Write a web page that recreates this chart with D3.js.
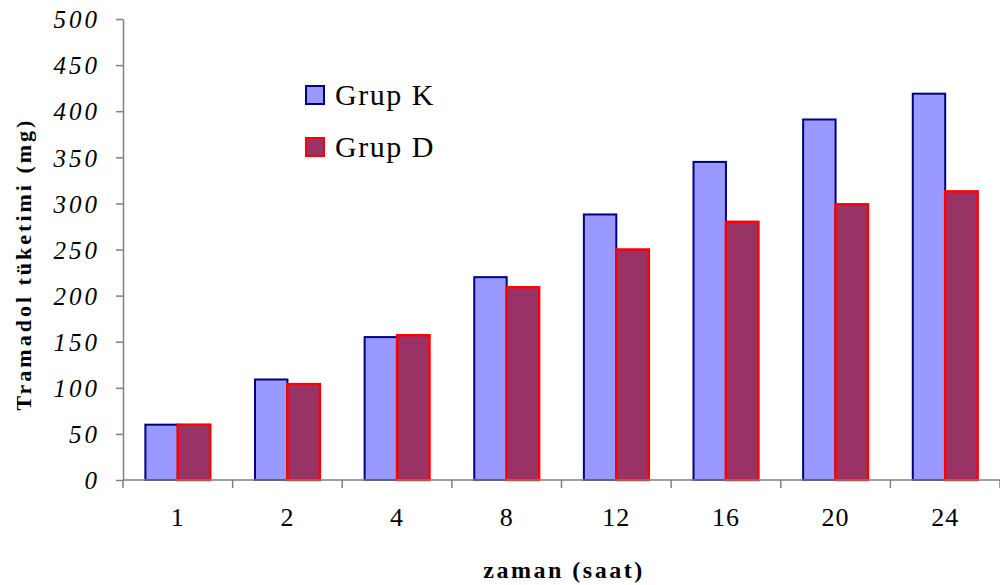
<!DOCTYPE html>
<html>
<head>
<meta charset="utf-8">
<script src="https://cdn.jsdelivr.net/npm/d3@7"></script>
<style>
  html, body { margin: 0; padding: 0; background: #fff; }
  svg { display: block; }
  text { font-family: "Liberation Serif", "Times New Roman", serif; fill: #000; }
</style>
</head>
<body>
<svg id="chart" width="1000" height="585"></svg>
<script>
// Tramadol consumption (mg) over time, two groups
const hours = ["1", "2", "4", "8", "12", "16", "20", "24"];
const seriesNames = ["Grup K", "Grup D"];
const grupK = [60, 109, 155, 220, 288, 345, 391, 419];
const grupD = [60, 104, 157, 209, 250, 280, 299, 313];
const yTicks = [0, 50, 100, 150, 200, 250, 300, 350, 400, 450, 500];

const fills = ["#9999FF", "#993366"];
const strokes = ["#000080", "#FF0000"];

const svg = d3.select("#chart");
const margin = { left: 123, right: 0, top: 19, bottom: 105 };
const W = 1000, H = 585;

const x = d3.scaleBand().domain(hours).range([margin.left, W - margin.right]).paddingInner(0).paddingOuter(0);
const xi = d3.scaleBand().domain(seriesNames).range([0, x.bandwidth()]).paddingInner(0).paddingOuter(0.69);
const y = d3.scaleLinear().domain([0, 500]).range([H - margin.bottom, margin.top]);

const rows = hours.map((h, i) => ({ h, vals: [grupK[i], grupD[i]] }));

// Bars
const groups = svg.append("g").selectAll("g").data(rows).join("g")
  .attr("transform", d => `translate(${x(d.h)},0)`);
groups.selectAll("rect").data(d => d.vals.map((v, k) => ({ v, k })))
  .join("rect")
  .attr("x", d => xi(seriesNames[d.k]))
  .attr("y", d => y(d.v))
  .attr("width", xi.bandwidth())
  .attr("height", d => y(0) - y(d.v))
  .attr("fill", d => fills[d.k])
  .attr("stroke", d => strokes[d.k])
  .attr("stroke-width", d => d.k === 0 ? 2 : 2.5);

// Y axis
const yAxis = svg.append("g")
  .attr("transform", `translate(${margin.left},0)`)
  .call(d3.axisLeft(y).tickValues(yTicks).tickSize(7).tickPadding(16).tickSizeOuter(0));
yAxis.select(".domain").attr("stroke", "#808080").attr("stroke-width", 1.5);
yAxis.selectAll(".tick line").attr("stroke", "#808080").attr("stroke-width", 1.5);
yAxis.selectAll(".tick text")
  .style("font-family", "'Liberation Serif', serif")
  .style("font-style", "italic")
  .style("font-size", "25px")
  .style("letter-spacing", "3px")
  .attr("dy", "0.35em");

// X axis with ticks on category boundaries
const xAxisG = svg.append("g").attr("transform", `translate(0,${y(0)})`);
xAxisG.append("line")
  .attr("x1", margin.left).attr("x2", W - margin.right)
  .attr("y1", 0).attr("y2", 0)
  .attr("stroke", "#808080").attr("stroke-width", 1.5);
const boundaries = hours.map(h => x(h)).concat([x(hours[hours.length - 1]) + x.bandwidth()]);
xAxisG.selectAll("line.tick").data(boundaries).join("line")
  .attr("class", "tick")
  .attr("x1", d => d).attr("x2", d => d)
  .attr("y1", 0).attr("y2", 8)
  .attr("stroke", "#808080").attr("stroke-width", 1.5);
xAxisG.selectAll("text").data(hours).join("text")
  .attr("x", d => x(d) + x.bandwidth() / 2)
  .attr("y", 46)
  .attr("text-anchor", "middle")
  .style("font-size", "26px")
  .style("letter-spacing", "1px")
  .text(d => d);

// Axis titles
svg.append("text")
  .attr("transform", `translate(31,264) rotate(-90)`)
  .attr("text-anchor", "middle")
  .style("font-weight", "bold")
  .style("font-size", "22px")
  .style("letter-spacing", "3px")
  .text("Tramadol tüketimi (mg)");

svg.append("text")
  .attr("x", 564).attr("y", 578)
  .attr("text-anchor", "middle")
  .style("font-weight", "bold")
  .style("font-size", "24px")
  .style("letter-spacing", "2.5px")
  .text("zaman (saat)");

// Legend
const legend = svg.append("g").selectAll("g").data(seriesNames).join("g")
  .attr("transform", (d, i) => `translate(306,${86 + i * 52})`);
legend.append("rect")
  .attr("width", 18).attr("height", 18)
  .attr("fill", (d, i) => fills[i])
  .attr("stroke", (d, i) => strokes[i])
  .attr("stroke-width", 2);
legend.append("text")
  .attr("x", 29).attr("y", 19)
  .style("font-size", "30px")
  .style("letter-spacing", "1.5px")
  .text(d => d);
</script>
</body>
</html>
